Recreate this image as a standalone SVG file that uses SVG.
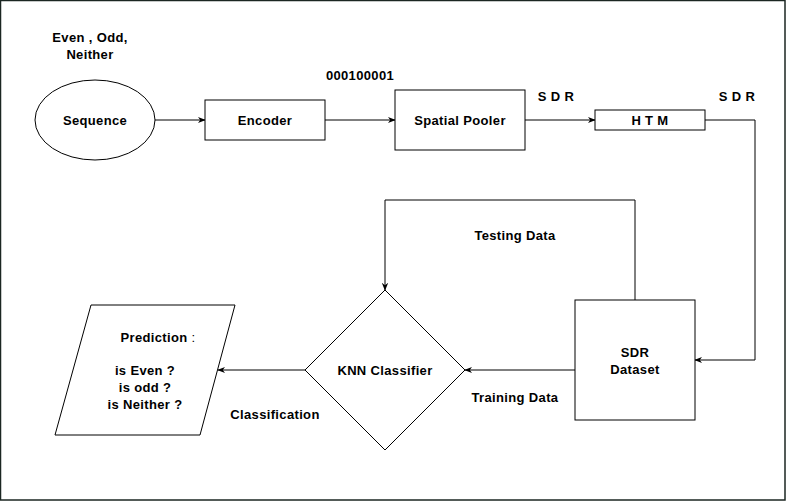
<svg xmlns="http://www.w3.org/2000/svg" width="786" height="501" viewBox="0 0 786 501">
<defs>
<marker id="arr" viewBox="0 0 10 10" refX="9" refY="5" markerWidth="8" markerHeight="8" markerUnits="userSpaceOnUse" orient="auto">
<path d="M0,1 L10,5 L0,9 L3,5 Z" fill="#000"/>
</marker>
<style>
.s{fill:#fff;stroke:#000;stroke-width:1}
.c{fill:none;stroke:#000;stroke-width:1;marker-end:url(#arr)}
text{font-family:"Liberation Sans",Arial,sans-serif;font-size:13px;letter-spacing:0.35px;font-weight:bold;fill:#000;text-anchor:middle}
</style>
</defs>
<rect x="0.5" y="0.5" width="784.5" height="499.5" fill="#fff" stroke="#1b2622" stroke-width="1.5"/>
<g id="connectors">
<path class="c" d="M155,120 H205"/>
<path class="c" d="M325,120 H395"/>
<path class="c" d="M525,120 H595"/>
<path class="c" d="M705,120 H755 V360 H695"/>
<path class="c" d="M635,300 V200 H385 V290"/>
<path class="c" d="M575,370 H465"/>
<path class="c" d="M305,370 H218"/>
</g>
<g id="labels">
<text x="90" y="42">Even , Odd,</text>
<text x="90" y="59">Neither</text>
<text x="360" y="80">000100001</text>
<text x="556" y="101">S D R</text>
<text x="737" y="101">S D R</text>
<text x="515" y="240">Testing Data</text>
<text x="515" y="402">Training Data</text>
<text x="275" y="419">Classification</text>
</g>
<g id="sequence">
<ellipse class="s" cx="95" cy="120" rx="60" ry="40"/>
<text x="95" y="125">Sequence</text>
</g>
<g id="encoder">
<rect class="s" x="205" y="100" width="120" height="40"/>
<text x="265" y="125">Encoder</text>
</g>
<g id="spatial-pooler">
<rect class="s" x="395" y="90" width="130" height="60"/>
<text x="460" y="125">Spatial Pooler</text>
</g>
<g id="htm">
<rect class="s" x="595" y="110" width="110" height="20"/>
<text x="650" y="125">H T M</text>
</g>
<g id="sdr-dataset">
<rect class="s" x="575" y="300" width="120" height="120"/>
<text x="635" y="357">SDR</text>
<text x="635" y="374">Dataset</text>
</g>
<g id="knn">
<path class="s" d="M385,290 L465,370 L385,450 L305,370 Z"/>
<text x="385" y="375">KNN Classifier</text>
</g>
<g id="prediction">
<path class="s" d="M91,305 L235,305 L200,435 L55,435 Z"/>
<text x="158" y="342">Prediction <tspan font-weight="normal">:</tspan></text>
<text x="145" y="375">is Even ?</text>
<text x="145" y="392">is odd ?</text>
<text x="145" y="409">is Neither ?</text>
</g>
</svg>
